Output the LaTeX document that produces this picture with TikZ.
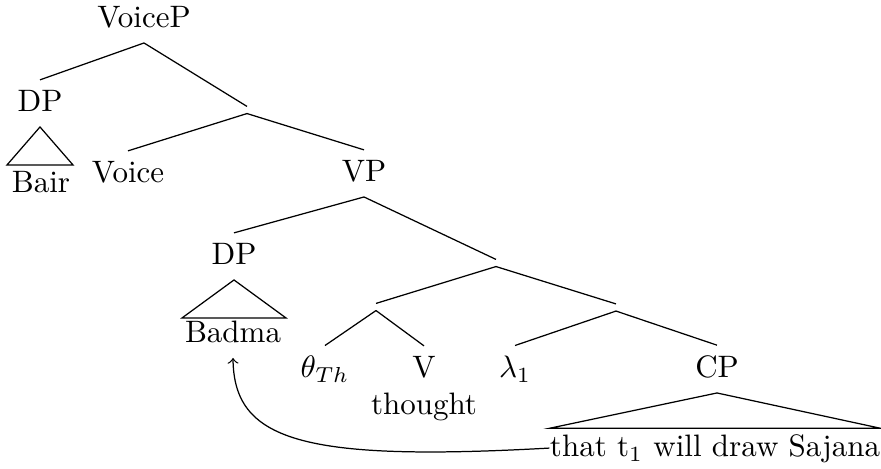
\documentclass[tikz,border=0pt]{standalone}
\begin{document}
\begin{tikzpicture}[x=0.3226pt,y=-0.3226pt,
  word/.style={anchor=base,text depth=1.3pt},
  bar/.style={inner sep=0pt,minimum size=1.9pt}]
  \useasboundingbox (0,0) rectangle (881,469);
  % upper part
  \node[word] (voicep) at (144,28) {VoiceP};
  \node[word] (dpA) at (40,112) {DP};
  \node[word] (bair) at (41,193) {Bair};
  \node[bar] (vbar) at (247,110) {};
  \node[word] (voice) at (128,183) {Voice};
  \node[word] (vp) at (364,182) {VP};
  % VP part
  \node[word] (dpB) at (234,265) {DP};
  \node[word] (badma) at (233,343) {Badma};
  \node[bar] (vpbar) at (496,263) {};
  \node[bar] (vbarB) at (376,307) {};
  \node[bar] (lbar) at (616,307.5) {};
  \node[word] (theta) at (325,378) {$\theta_{Th}$};
  \node[word] (verb) at (424,378) {V};
  \node[word] (thought) at (424,415) {thought};
  \node[word] (lambda) at (515,378) {$\lambda_1$};
  \node[word] (cp) at (717,378) {CP};
  \node[word,inner xsep=0pt,inner ysep=2pt] (clause) at (715,457) {that t$_1$ will draw Sajana};
  % branches
  \draw (voicep.south) -- (dpA.north);
  \draw (voicep.south) -- (vbar.north);
  \draw (vbar.south) -- (voice.north);
  \draw (vbar.south) -- (vp.north);
  \draw (vp.south) -- (dpB.north);
  \draw (vp.south) -- (vpbar.north);
  \draw (vpbar.south) -- (vbarB.north);
  \draw (vpbar.south) -- (lbar.north);
  \draw (vbarB.south) -- (theta.north);
  \draw (vbarB.south) -- (verb.north);
  \draw (lbar.south) -- (lambda.north);
  \draw (lbar.south) -- (cp.north);
  % triangles
  \draw (dpA.south) -- ++(-33,38) -- ++(66,0) -- cycle;
  \draw (dpB.south) -- ++(-52,38) -- ++(104,0) -- cycle;
  \draw (cp.south) -- (clause.north west) -- (clause.north east) -- cycle;
  % movement arrow
  \draw[->] (clause.west) .. controls (300,462) and (234,440) .. (badma.south);
\end{tikzpicture}
\end{document}
